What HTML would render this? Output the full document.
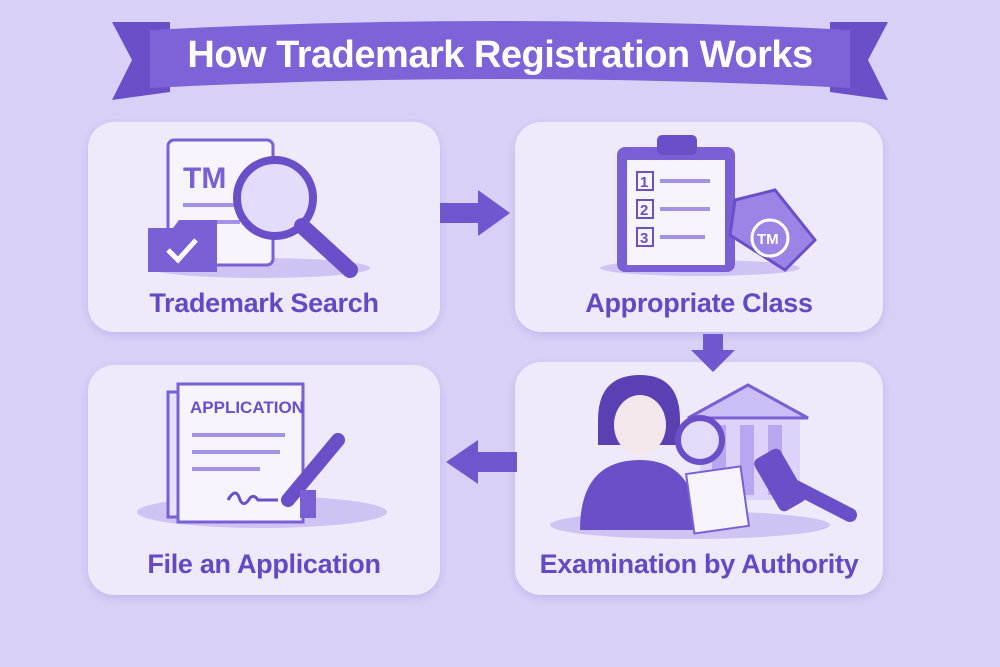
<!DOCTYPE html>
<html><head><meta charset="utf-8"><style>
body{margin:0;width:1000px;height:667px;background:#d8d0f6;font-family:"Liberation Sans",sans-serif;overflow:hidden;position:relative}
.card{position:absolute;background:#efeafb;border-radius:26px;box-shadow:0 3px 8px rgba(110,80,200,.18)}
.lbl{position:absolute;left:0;right:0;text-align:center;color:#6448c4;font-weight:bold;font-size:27px;letter-spacing:-0.3px}
svg{position:absolute;left:0;top:0}
</style></head><body>
<svg width="1000" height="667">
 <!-- banner -->
 <polygon points="112,22 170,22 170,92 112,100 132,60" fill="#6a4fc8"/>
 <polygon points="888,22 830,22 830,92 888,100 868,60" fill="#6a4fc8"/>
 <path d="M150,30 Q500,12 850,30 L850,88 Q500,70 150,88 Z" fill="#7d62d8"/>
</svg>
<div style="position:absolute;left:0;right:0;top:34px;text-align:center;color:#fff;font-weight:bold;font-size:38px;letter-spacing:-0.5px">How Trademark Registration Works</div>

<div class="card" style="left:88px;top:122px;width:352px;height:210px"><div class="lbl" style="top:166px">Trademark Search</div></div>
<div class="card" style="left:515px;top:122px;width:368px;height:210px"><div class="lbl" style="top:166px">Appropriate Class</div></div>
<div class="card" style="left:88px;top:365px;width:352px;height:230px"><div class="lbl" style="top:184px">File an Application</div></div>
<div class="card" style="left:515px;top:362px;width:368px;height:233px"><div class="lbl" style="top:187px">Examination by Authority</div></div>

<svg width="1000" height="667">
 <!-- arrows -->
 <polygon points="440,203 478,203 478,190 510,213 478,236 478,223 440,223" fill="#7056cf"/>
 <polygon points="703,334 723,334 723,350 735,350 713,372 691,350 703,350" fill="#7056cf"/>
 <polygon points="517,452 478,452 478,440 446,462 478,484 478,472 517,472" fill="#7056cf"/>

 <!-- card1 icon -->
 <ellipse cx="260" cy="268" rx="110" ry="10" fill="#cfc3f3"/>
 <rect x="168" y="140" width="105" height="125" rx="6" fill="#f7f4fe" stroke="#7a60d4" stroke-width="3"/>
 <text x="183" y="188" font-family="Liberation Sans" font-weight="bold" font-size="30" fill="#7a60d4">TM</text>
 <line x1="183" y1="205" x2="250" y2="205" stroke="#a592e6" stroke-width="4"/>
 <line x1="183" y1="222" x2="240" y2="222" stroke="#a592e6" stroke-width="4"/>
 <path d="M148,228 h25 l6,-8 h38 v52 h-69 z" fill="#7a60d4"/>
 <polyline points="168,250 178,260 196,240" fill="none" stroke="#fff" stroke-width="5"/>
 <circle cx="275" cy="198" r="38" fill="#e4dcfb" stroke="#6a4fc8" stroke-width="8"/>
 <line x1="302" y1="226" x2="350" y2="270" stroke="#6a4fc8" stroke-width="16" stroke-linecap="round"/>

 <!-- card2 icon -->
 <ellipse cx="700" cy="268" rx="100" ry="8" fill="#cfc3f3"/>
 <rect x="617" y="147" width="118" height="125" rx="8" fill="#7a60d4"/>
 <rect x="627" y="160" width="98" height="105" fill="#f7f4fe"/>
 <rect x="657" y="135" width="40" height="20" rx="5" fill="#6a4fc8"/>
 <g font-family="Liberation Sans" font-weight="bold" font-size="15" fill="#6a4fc8">
 <rect x="637" y="172" width="16" height="18" fill="none" stroke="#6a4fc8" stroke-width="2"/><text x="640" y="187">1</text>
 <rect x="637" y="200" width="16" height="18" fill="none" stroke="#6a4fc8" stroke-width="2"/><text x="640" y="215">2</text>
 <rect x="637" y="228" width="16" height="18" fill="none" stroke="#6a4fc8" stroke-width="2"/><text x="640" y="243">3</text></g>
 <line x1="660" y1="181" x2="710" y2="181" stroke="#a592e6" stroke-width="4"/>
 <line x1="660" y1="209" x2="710" y2="209" stroke="#a592e6" stroke-width="4"/>
 <line x1="660" y1="237" x2="705" y2="237" stroke="#a592e6" stroke-width="4"/>
 <path d="M735,200 l40,-10 l40,50 l-30,30 l-55,-35 z" fill="#9b84e6" stroke="#6a4fc8" stroke-width="3"/>
 <circle cx="770" cy="238" r="18" fill="none" stroke="#fff" stroke-width="3"/>
 <text x="757" y="244" font-family="Liberation Sans" font-weight="bold" font-size="15" fill="#fff">TM</text>

 <!-- card3 icon -->
 <ellipse cx="262" cy="512" rx="125" ry="16" fill="#cfc3f3"/>
 <rect x="168" y="392" width="115" height="125" fill="#e7e0fb" stroke="#7a60d4" stroke-width="3"/>
 <rect x="178" y="384" width="125" height="138" fill="#f7f4fe" stroke="#7a60d4" stroke-width="3"/>
 <text x="190" y="413" font-family="Liberation Sans" font-weight="bold" font-size="17" fill="#6a4fc8">APPLICATION</text>
 <line x1="192" y1="435" x2="285" y2="435" stroke="#a592e6" stroke-width="4"/>
 <line x1="192" y1="452" x2="280" y2="452" stroke="#a592e6" stroke-width="4"/>
 <line x1="192" y1="469" x2="260" y2="469" stroke="#a592e6" stroke-width="4"/>
 <path d="M228,500 q8,-14 12,0 q4,8 10,-2 q4,-4 8,2 h20" fill="none" stroke="#6a4fc8" stroke-width="3"/>
 <line x1="338" y1="440" x2="288" y2="500" stroke="#6a4fc8" stroke-width="14" stroke-linecap="round"/>
 <rect x="300" y="490" width="16" height="28" fill="#7a60d4"/>

 <!-- card4 icon -->
 <ellipse cx="690" cy="525" rx="140" ry="14" fill="#cfc3f3"/>
 <polygon points="688,418 748,385 808,418" fill="#cbbdf5" stroke="#7a60d4" stroke-width="3"/>
 <rect x="700" y="420" width="100" height="80" fill="#ddd3fa"/>
 <rect x="712" y="425" width="14" height="70" fill="#b8a7f0"/><rect x="740" y="425" width="14" height="70" fill="#b8a7f0"/><rect x="768" y="425" width="14" height="70" fill="#b8a7f0"/>
 <path d="M580,530 q0,-70 60,-70 q55,0 60,70 z" fill="#6a4fc8"/>
 <path d="M598,420 q0,-45 42,-45 q40,0 40,45 v25 h-82 z" fill="#5b40b4"/>
 <ellipse cx="640" cy="425" rx="26" ry="30" fill="#f3e7ec"/>
 <circle cx="700" cy="440" r="22" fill="#e4dcfb" stroke="#6a4fc8" stroke-width="6"/>
 <rect x="690" y="470" width="55" height="60" fill="#f7f4fe" stroke="#7a60d4" stroke-width="2" transform="rotate(-8 717 500)"/>
 <line x1="778" y1="478" x2="850" y2="515" stroke="#6a4fc8" stroke-width="14" stroke-linecap="round"/>
 <rect x="765" y="450" width="30" height="60" rx="6" fill="#6a4fc8" transform="rotate(-30 780 480)"/>
</svg>
</body></html>
